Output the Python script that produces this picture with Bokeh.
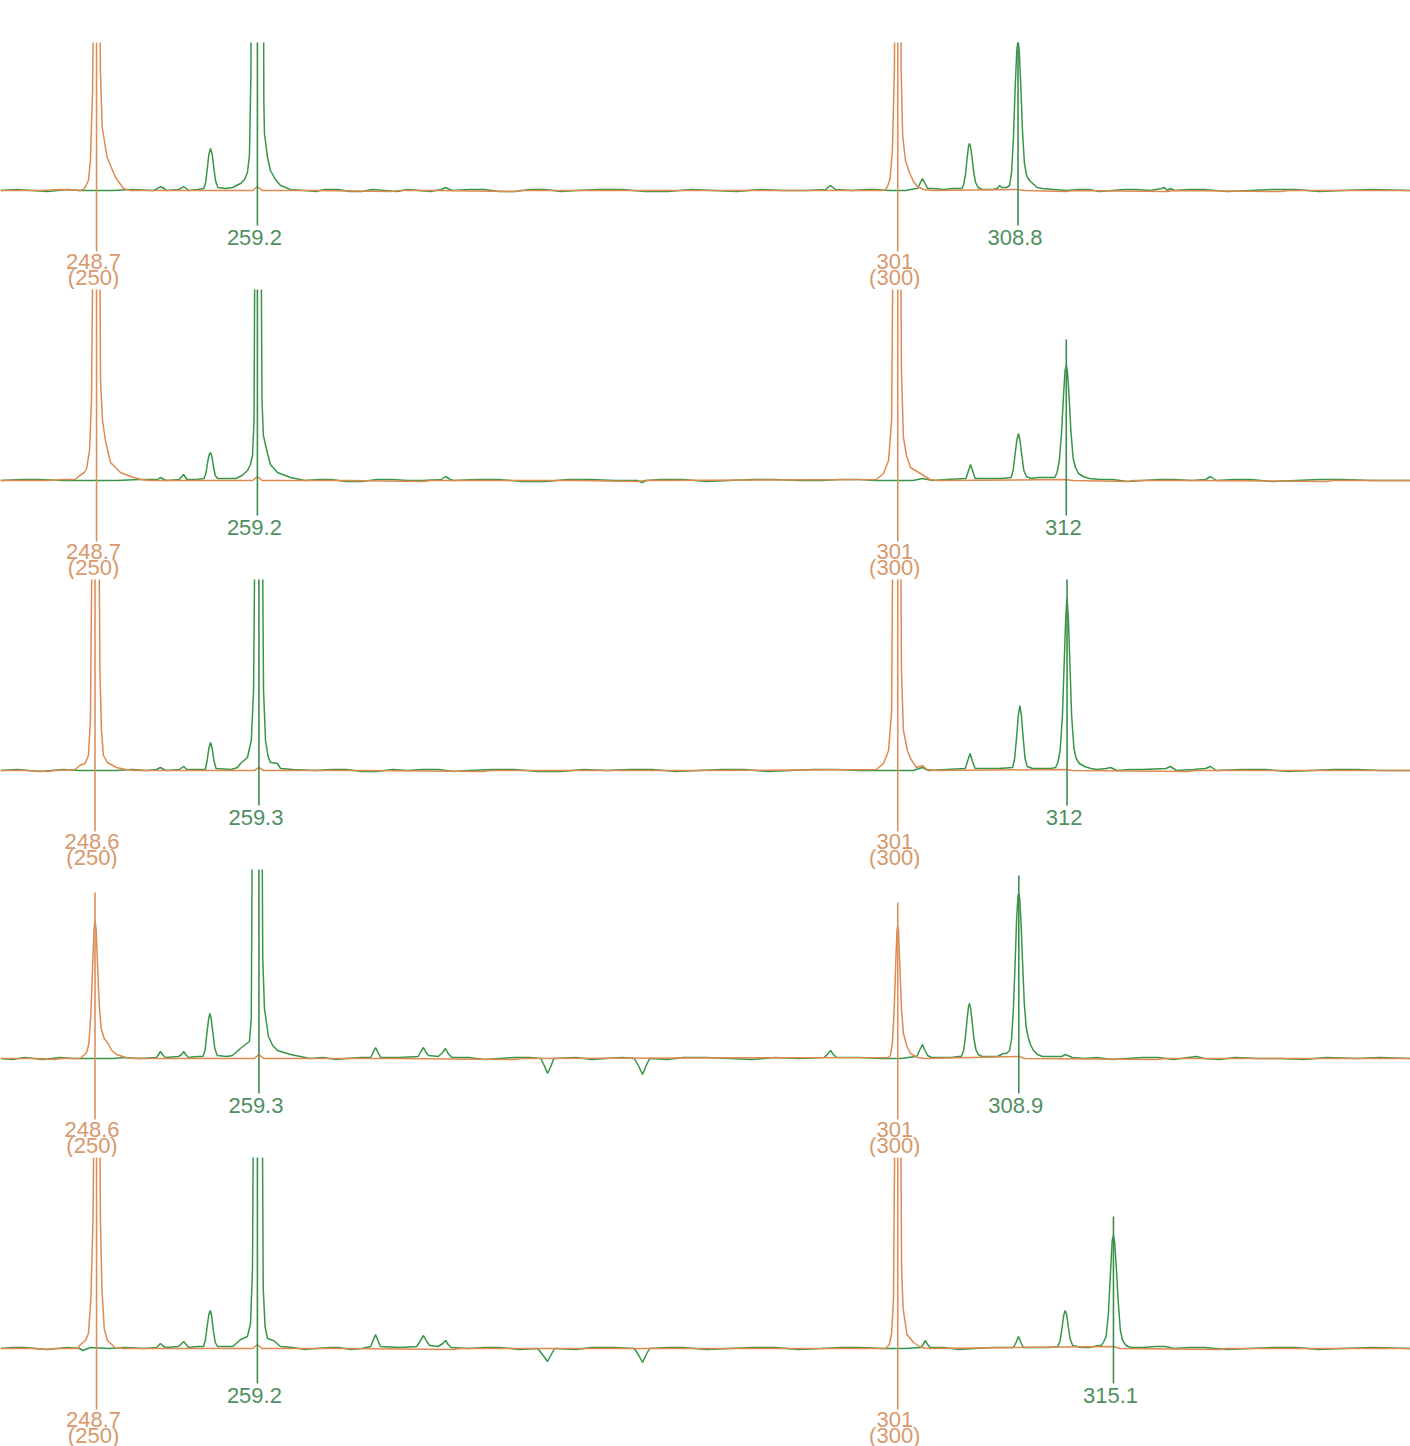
from bokeh.plotting import figure
from bokeh.layouts import column
from bokeh.models import Range1d, ColumnDataSource
from bokeh.embed import file_html
from bokeh.resources import INLINE
from bokeh.core.properties import value

# ---------------- data (size in bp, signal in relative units) ----------------
SIZE_START, SIZE_END = 242.43, 334.47
CLIP = 300  # saturated peaks (run off the top of the panel)

P1_GREEN = [(242.43,0),(243.5,1),(244.5,0),(245.5,-1),(246.8,1),(247.6,0),(249.8,0),(251.0,1),(252.4,0),(252.7,2),(252.87,4),(253.1,2),(253.3,0),
            (254.05,1),(254.2,2),(254.38,4),(254.55,2),(254.7,0),(255.3,1),(255.7,2),(255.82,8),(255.93,22),(256.03,36),(256.14,42),(256.25,36),
            (256.36,22),(256.48,9),(256.62,3),(257.1,2),(257.57,3),(258.1,7),(258.36,11),(258.55,18),(258.68,35),(258.78,120),(258.82,CLIP),
            (259.58,CLIP),(259.62,90),(259.66,57),(259.86,33),(260.05,20),(260.38,11),(260.71,5),(261.36,1),(262.3,0),(263.0,-1),(263.6,1),
            (264.5,1),(265.2,-1),(266.0,-1),(266.7,1),(267.5,0),(268.3,-1),(269.0,1),(270.5,-1),(271.2,1),(271.48,3),(271.75,1),(272.0,0),
            (273.0,1),(274.0,1),(275.0,-1),(276.0,-1),(277.0,1),(278.0,1),(279.0,-1),(280.0,0),(281.5,1),(283.0,1),(284.5,-1),(286.0,-1),
            (287.5,1),(289.0,0),(290.5,-1),(292.0,1),(293.5,0),(295.0,0),(296.3,1),(296.45,3),(296.61,5),(296.77,3),(296.93,1),(298.0,0),
            (299.0,1),(299.5,1),(300.5,0),(301.5,0),(302.2,2),(302.3,2),(302.45,7),(302.61,12),(302.78,7),(302.95,2),(303.3,2),(304.0,1),
            (304.6,2),(305.2,2),(305.3,6),(305.42,16),(305.53,33),(305.62,44),(305.68,47),(305.75,44),(305.85,33),(305.96,18),(306.08,8),
            (306.25,3),(306.5,1),(307.2,1),(307.5,2),(307.65,5),(307.8,3),(308.1,3),(308.3,5),(308.43,18),(308.55,52),(308.67,105),
            (308.77,140),(308.85,150),(308.93,140),(309.03,105),(309.15,57),(309.27,27),(309.43,14),(309.66,9),(310.1,3),(310.44,2),(311.2,1),
            (312.0,0),(312.8,1),(313.5,1),(314.2,-1),(315.0,0),(315.8,1),(316.5,1),(317.5,0),(318.2,2),(318.4,3),(318.6,0),(318.8,2),(319.1,0),
            (320.0,1),(321.0,1),(322.5,-1),(324.0,0),(325.5,1),(327.0,1),(328.5,-1),(330.0,0),(332.0,1),(334.47,0)]
P1_ORANGE = [(242.43,0),(245.0,0),(246.5,1),(247.6,0),(247.85,1),(247.98,4),(248.17,10),(248.3,30),(248.44,100),(248.57,CLIP),
             (248.89,CLIP),(248.95,120),(249.07,63),(249.39,33),(249.94,13),(250.46,2),(250.9,0),(256.0,0),(258.9,0),(259.2,4),(259.5,0),
             (263.0,0),(268.0,-1),(268.4,0),(271.0,0),(276.0,-1),(276.4,0),(290.0,0),(300.0,0),(300.2,1),(300.33,4),(300.5,12),(300.65,40),
             (300.78,120),(300.85,CLIP),(301.17,CLIP),(301.22,120),(301.32,55),(301.5,30),(301.76,18),(302.03,9),(302.29,4),(302.7,1),
             (303.3,0),(308.8,1),(309.3,0),(312.0,-1),(312.4,0),(318.6,-1),(319.0,0),(326.0,-1),(326.5,0),(334.47,0)]
P1_PEAKS = [("orange", 248.7, CLIP, "248.7", "(250)"), ("green", 259.2, CLIP, "259.2", ""),
            ("orange", 301.0, CLIP, "301", "(300)"), ("green", 308.85, CLIP, "308.8", "")]

P2_GREEN = [(242.43,0),(243.8,1),(245.0,1),(246.5,0),(247.6,0),(250.0,0),(251.5,1),(252.7,1),(252.87,3),(253.1,1),(253.3,0),(254.1,1),
            (254.38,6),(254.6,1),(255.2,1),(255.72,2),(255.85,8),(255.97,20),(256.06,26),(256.14,28),(256.23,24),(256.33,14),(256.45,5),
            (256.6,2),(257.2,2),(257.8,2),(258.2,5),(258.55,10),(258.75,16),(258.88,25),(258.98,60),(259.05,CLIP),(259.42,CLIP),(259.5,80),
            (259.59,45),(259.86,27),(260.05,16),(260.51,8),(261.36,3),(262.3,0),(263.2,1),(264.0,1),(265.0,-1),(266.0,-1),(267.0,1),(268.0,1),
            (269.0,0),(270.0,0),(271.2,1),(271.48,4),(271.8,1),(272.0,0),(273.5,1),(275.0,1),(276.5,-1),(278.0,-1),(279.5,1),(281.0,1),
            (282.5,0),(284.0,0),(284.3,-2),(284.6,0),(285.5,1),(287.0,1),(288.5,-1),(290.0,0),(291.5,1),(293.0,1),(294.5,0),(296.0,0),
            (297.2,1),(298.5,1),(299.5,0),(300.0,0),(302.0,0),(302.6,2),(303.3,0),(304.2,1),(305.45,2),(305.6,9),(305.75,16),(305.9,9),
            (306.05,2),(307.0,2),(307.8,2),(308.4,3),(308.53,10),(308.65,25),(308.77,40),(308.88,47),(308.98,40),(309.1,25),(309.23,10),
            (309.4,4),(309.7,2),(310.2,3),(311.0,3),(311.25,3),(311.4,8),(311.55,20),(311.7,50),(311.82,85),(311.92,110),(312.0,115),
            (312.08,108),(312.18,85),(312.3,50),(312.45,22),(312.6,13),(312.8,7),(313.1,4),(313.5,2),(314.2,1),(315.0,1),(316.0,-1),(317.0,0),
            (318.0,1),(319.0,1),(320.2,0),(321.1,1),(321.41,4),(321.8,0),(323.0,1),(324.0,1),(325.5,-1),(327.0,0),(328.5,1),(330.0,1),
            (332.0,0),(334.47,0)]
P2_ORANGE = [(242.43,0),(245.5,0),(246.5,1),(247.3,1),(247.6,5),(247.9,8),(248.05,12),(248.24,30),(248.37,80),(248.5,CLIP),(248.89,CLIP),
             (248.96,100),(249.09,60),(249.28,40),(249.61,18),(250.26,8),(250.92,4),(251.6,1),(252.2,0),(258.9,0),(259.2,4),(259.5,0),
             (265.0,0),(270.0,-1),(270.5,0),(280.0,0),(284.0,-1),(284.5,0),(299.6,1),(300.07,7),(300.4,20),(300.6,60),(300.72,CLIP),
             (301.17,CLIP),(301.24,110),(301.37,43),(301.57,25),(301.83,13),(302.48,7),(303.1,1),(303.6,0),(312.0,1),(312.4,0),(316.0,-1),
             (316.4,0),(320.0,0),(329.0,-1),(329.4,0),(334.47,0)]
P2_PEAKS = [("orange", 248.7, CLIP, "248.7", "(250)"), ("green", 259.2, CLIP, "259.2", ""),
            ("orange", 301.0, CLIP, "301", "(300)"), ("green", 312.0, 141, "312", "")]

P3_GREEN = [(242.43,0),(243.5,1),(245.0,-1),(246.5,1),(247.6,0),(250.0,0),(251.0,1),(252.0,0),(252.6,1),(252.87,3),(253.1,1),(253.3,0),
            (254.1,1),(254.38,4),(254.6,1),(255.2,1),(255.8,1),(255.92,10),(256.03,22),(256.14,28),(256.25,22),(256.36,10),(256.5,2),
            (257.5,1),(257.9,3),(258.1,7),(258.55,13),(258.8,30),(258.95,80),(259.07,CLIP),(259.5,CLIP),(259.6,80),(259.73,30),(259.9,14),
            (260.05,8),(260.51,7),(260.71,2),(261.5,1),(263.0,0),(264.0,1),(265.0,1),(266.0,-1),(267.0,-1),(268.0,1),(269.0,0),(270.0,1),
            (271.0,1),(272.0,-1),(273.0,0),(274.5,1),(276.0,1),(277.5,-1),(279.0,-1),(280.5,1),(282.0,0),(283.5,1),(285.0,1),(286.5,-1),
            (288.0,0),(289.5,1),(291.0,1),(292.5,-1),(294.0,0),(295.5,1),(297.0,1),(298.5,0),(299.5,0),(302.0,0),(302.61,3),(303.0,0),
            (304.2,1),(305.4,2),(305.55,9),(305.72,17),(305.88,9),(306.05,2),(306.8,2),(307.6,2),(308.5,3),(308.63,12),(308.75,32),
            (308.87,55),(308.97,65),(309.07,55),(309.19,32),(309.31,12),(309.45,4),(309.8,2),(310.2,2),(311.0,2),(311.3,3),(311.45,8),
            (311.6,20),(311.75,55),(311.87,110),(311.97,155),(312.05,172),(312.13,155),(312.23,110),(312.35,55),(312.5,22),(312.65,12),
            (312.85,7),(313.2,4),(313.6,2),(314.0,1),(314.6,2),(314.9,3),(315.3,0),(316.2,1),(317.0,1),(318.5,2),(318.8,4),(319.2,0),
            (320.3,1),(321.1,2),(321.41,4),(321.8,0),(323.5,1),(325.0,1),(326.5,-1),(328.0,0),(329.5,1),(331.0,1),(332.5,0),(334.47,0)]
P3_ORANGE = [(242.43,0),(244.0,0),(245.5,-1),(246.0,0),(247.3,1),(247.6,5),(247.95,7),(248.17,15),(248.3,50),(248.44,CLIP),(248.83,CLIP),
             (248.92,100),(249.02,40),(249.15,15),(249.41,8),(250.0,3),(250.6,1),(251.2,0),(259.0,0),(259.3,3),(259.6,0),(266.0,0),
             (274.0,-1),(274.4,0),(288.0,0),(299.6,1),(300.07,7),(300.4,20),(300.6,60),(300.7,CLIP),(301.17,CLIP),(301.24,100),(301.37,40),
             (301.63,20),(301.83,12),(302.22,3),(302.61,5),(302.9,1),(303.5,0),(312.0,1),(312.4,0),(320.0,-1),(320.4,0),(334.47,0)]
P3_PEAKS = [("orange", 248.6, CLIP, "248.6", "(250)"), ("green", 259.3, CLIP, "259.3", ""),
            ("orange", 301.0, CLIP, "301", "(300)"), ("green", 312.05, 193, "312", "")]

P4_GREEN = [(242.43,0),(243.2,-1),(244.0,1),(245.2,-1),(246.3,1),(247.2,0),(247.6,0),(249.8,0),(250.5,1),(251.5,0),(252.6,1),(252.75,4),
            (252.87,7),(253.0,4),(253.2,1),(254.05,2),(254.25,4),(254.38,7),(254.52,4),(254.7,1),(255.3,2),(255.65,2),(255.78,8),
            (255.9,25),(256.02,40),(256.1,45),(256.18,40),(256.3,25),(256.42,10),(256.58,3),(257.2,2),(257.57,3),(258.17,11),(258.68,17),
            (258.8,40),(258.89,CLIP),(259.48,CLIP),(259.55,100),(259.66,50),(259.92,22),(260.2,13),(260.51,8),(261.36,4),(262.0,2),
            (262.6,0),(263.5,1),(264.3,-1),(265.0,0),(266.0,1),(266.6,1),(266.75,6),(266.91,11),(267.07,6),(267.25,1),(268.5,1),(269.7,2),
            (269.87,7),(270.04,11),(270.2,6),(270.37,3),(271.0,2),(271.3,6),(271.48,10),(271.65,5),(271.9,1),(273.0,1),(274.0,-1),
            (275.0,0),(276.0,1),(277.0,1),(277.7,0),(277.95,-8),(278.14,-15),(278.35,-8),(278.55,0),(280.0,1),(281.0,-1),(282.0,0),
            (283.0,1),(283.8,0),(284.1,-8),(284.34,-16),(284.55,-8),(284.8,0),(286.0,-1),(287.0,1),(288.5,1),(290.0,0),(291.5,-1),
            (293.0,1),(294.5,0),(296.2,1),(296.4,4),(296.61,8),(296.8,4),(297.0,1),(298.5,1),(300.0,0),(301.2,0),(302.2,2),(302.25,2),
            (302.45,9),(302.61,14),(302.78,8),(302.95,3),(303.2,1),(304.5,1),(304.96,2),(305.15,2),(305.3,8),(305.42,22),(305.53,40),
            (305.62,52),(305.68,55),(305.76,50),(305.86,36),(305.97,20),(306.1,9),(306.25,4),(306.5,2),(307.0,2),(307.5,2),(307.9,5),
            (308.1,5),(308.3,8),(308.43,20),(308.55,50),(308.66,95),(308.76,140),(308.85,163),(308.9,165),(308.96,160),(309.05,135),
            (309.15,95),(309.26,55),(309.38,32),(309.5,22),(309.66,14),(309.86,8),(310.12,4),(310.44,2),(311.0,2),(311.7,2),(311.95,4),
            (312.4,1),(313.2,0),(314.0,1),(315.0,-1),(316.0,0),(317.0,1),(318.0,1),(319.0,-1),(320.0,1),(320.5,2),(321.0,0),(322.0,-1),
            (323.0,1),(324.5,0),(326.0,0),(327.5,-1),(329.0,1),(331.0,0),(332.5,1),(334.47,0)]
P4_ORANGE = [(242.43,0),(245.0,0),(246.0,-1),(246.4,0),(247.6,0),(247.78,2),(248.05,6),(248.2,15),(248.33,45),(248.45,95),(248.54,130),
             (248.6,138),(248.67,130),(248.76,95),(248.87,55),(249.0,30),(249.2,20),(249.41,16),(249.7,8),(250.0,4),(250.6,1),(251.2,0),
             (259.0,0),(259.3,4),(259.6,0),(268.0,0),(276.0,-1),(276.4,0),(300.4,1),(300.52,3),(300.65,15),(300.77,50),(300.88,100),
             (300.95,128),(301.0,133),(301.05,128),(301.13,95),(301.24,50),(301.37,25),(301.6,12),(301.83,5),(302.3,1),(302.8,0),
             (308.9,2),(309.3,0),(318.0,-1),(318.4,0),(334.47,0)]
P4_PEAKS = [("orange", 248.6, 166, "248.6", "(250)"), ("green", 259.3, CLIP, "259.3", ""),
            ("orange", 301.0, 156, "301", "(300)"), ("green", 308.9, 183, "308.9", "")]

P5_GREEN = [(242.43,0),(243.2,1),(244.0,1),(245.5,-1),(246.8,1),(247.6,0),(247.8,-2),(248.3,1),(249.5,0),(250.5,1),(251.8,0),(252.6,1),
            (252.75,3),(252.87,5),(253.0,3),(253.2,1),(254.05,2),(254.2,4),(254.38,7),(254.55,4),(254.7,1),(255.3,2),(255.68,2),(255.8,8),
            (255.92,22),(256.03,34),(256.12,38),(256.21,33),(256.32,18),(256.45,6),(256.6,2),(257.3,2),(257.6,2),(258.1,9),(258.55,12),
            (258.75,25),(258.88,80),(258.96,CLIP),(259.5,CLIP),(259.58,60),(259.7,22),(259.86,10),(260.25,8),(260.71,2),(261.5,1),
            (262.3,-1),(263.0,0),(264.0,1),(264.5,1),(265.3,-1),(266.0,0),(266.6,2),(266.75,8),(266.91,14),(267.07,8),(267.23,2),
            (268.5,1),(269.6,2),(269.85,8),(270.04,13),(270.25,7),(270.45,3),(271.0,2),(271.3,5),(271.48,8),(271.65,4),(271.85,1),
            (273.0,0),(274.0,1),(275.0,1),(276.3,-1),(277.5,0),(277.85,-7),(278.14,-13),(278.35,-7),(278.6,0),(280.0,-1),(281.0,1),
            (282.5,1),(283.8,0),(284.1,-7),(284.34,-14),(284.55,-7),(284.8,0),(286.0,1),(287.0,1),(288.5,-1),(290.0,0),(291.5,1),
            (293.0,1),(294.5,-1),(296.0,0),(297.3,1),(298.5,1),(300.0,0),(301.5,0),(302.5,1),(302.65,4),(302.81,8),(302.95,4),(303.1,1),
            (304.0,1),(305.0,-1),(306.0,0),(307.2,1),(308.55,1),(308.72,6),(308.88,12),(309.04,6),(309.2,1),(310.0,1),(310.9,1),
            (311.45,2),(311.6,8),(311.72,20),(311.83,33),(311.93,38),(312.02,34),(312.13,22),(312.26,9),(312.42,3),(313.0,1),(313.5,1),
            (314.1,3),(314.3,3),(314.45,7),(314.6,12),(314.75,35),(314.9,80),(315.0,108),(315.08,113),(315.16,106),(315.27,80),
            (315.4,45),(315.53,18),(315.68,8),(315.9,3),(316.2,1),(317.0,1),(317.8,2),(318.5,2),(319.0,0),(320.0,1),(321.0,1),(322.5,-1),
            (324.0,0),(325.5,1),(327.0,1),(328.5,-1),(330.0,0),(332.0,1),(334.47,0)]
P5_ORANGE = [(242.43,0),(244.5,0),(245.5,-1),(246.0,0),(247.46,0),(247.65,4),(247.98,8),(248.17,15),(248.33,50),(248.47,130),
             (248.57,CLIP),(248.89,CLIP),(248.95,130),(249.05,60),(249.2,20),(249.41,8),(249.9,1),(250.5,0),(258.9,0),(259.2,4),
             (259.5,0),(265.0,0),(272.0,-1),(272.4,0),(300.2,0),(300.45,4),(300.6,15),(300.72,50),(300.85,CLIP),(301.17,CLIP),
             (301.25,80),(301.35,40),(301.6,14),(302.03,6),(302.5,1),(303.0,0),(315.1,2),(315.5,0),(322.0,-1),(322.4,0),(334.47,0)]
P5_PEAKS = [("orange", 248.7, CLIP, "248.7", "(250)"), ("green", 259.2, CLIP, "259.2", ""),
            ("orange", 301.0, CLIP, "301", "(300)"), ("green", 315.08, 132, "315.1", "")]

PANELS = [(P1_GREEN, P1_ORANGE, P1_PEAKS), (P2_GREEN, P2_ORANGE, P2_PEAKS), (P3_GREEN, P3_ORANGE, P3_PEAKS),
          (P4_GREEN, P4_ORANGE, P4_PEAKS), (P5_GREEN, P5_ORANGE, P5_PEAKS)]

# ---------------- layout / style ----------------
HEIGHTS = [289, 290, 290, 288, 289]
TOP_PAD = [42, 0, 0, 0, 0]
Y_LO = [-99, -99, -99, -99, -98]
Y_HI = [148, 191, 191, 189, 191]

GREEN = "#379548"
ORANGE = "#df8a4f"
GREEN_MARK = "#3f8c50"
ORANGE_MARK = "#d9925f"
GREEN_TEXT = "#4f8f60"
ORANGE_TEXT = "#d8996c"
FONT = value("Liberation Sans")
FSIZE = "22px"

figs = []
for i, (green, orange, peaks) in enumerate(PANELS):
    p = figure(width=1410, height=HEIGHTS[i], x_range=Range1d(SIZE_START, SIZE_END),
               y_range=Range1d(Y_LO[i], Y_HI[i]), output_backend="svg", toolbar_location=None,
               x_axis_location=None, y_axis_location=None, min_border=0,
               min_border_top=TOP_PAD[i], min_border_bottom=0, min_border_left=0, min_border_right=0)
    p.outline_line_color = None
    p.grid.visible = False
    p.background_fill_color = "white"
    p.border_fill_color = "white"

    p.line([s for s, _ in green], [v for _, v in green], line_color=GREEN, line_width=1.5)
    p.line([s for s, _ in orange], [v for _, v in orange], line_color=ORANGE, line_width=1.5)

    for col in ("orange", "green"):
        sel = [pk for pk in peaks if pk[0] == col]
        xs = [pk[1] for pk in sel]
        bottom = -61 if col == "orange" else -35
        p.segment(x0=xs, y0=[pk[2] for pk in sel], x1=xs, y1=[bottom] * len(sel),
                  line_color=ORANGE_MARK if col == "orange" else GREEN_MARK, line_width=1.6)
        tc = ORANGE_TEXT if col == "orange" else GREEN_TEXT
        if col == "orange":
            src1 = ColumnDataSource(dict(x=xs, y=[-71] * len(sel), t=[pk[3] for pk in sel]))
            src2 = ColumnDataSource(dict(x=xs, y=[-87] * len(sel), t=[pk[4] for pk in sel]))
            for src in (src1, src2):
                p.text(x="x", y="y", text="t", source=src, text_color=tc, text_font=FONT,
                       text_font_size=FSIZE, text_align="center", text_baseline="alphabetic", x_offset=-3)
        else:
            src = ColumnDataSource(dict(x=xs, y=[-47] * len(sel), t=[pk[3] for pk in sel]))
            p.text(x="x", y="y", text="t", source=src, text_color=tc, text_font=FONT,
                   text_font_size=FSIZE, text_align="center", text_baseline="alphabetic", x_offset=-3)
    figs.append(p)

layout = column(*figs, spacing=0)
open("out.html", "w").write(file_html(layout, INLINE))
